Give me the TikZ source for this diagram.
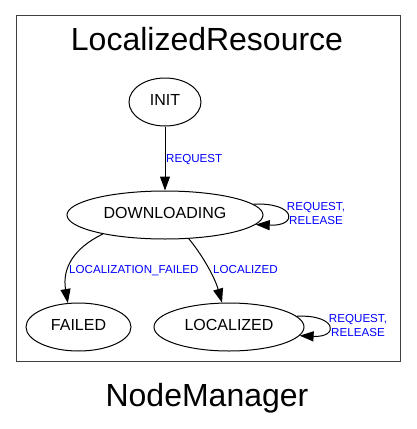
\documentclass[tikz,border=0pt]{standalone}
\usepackage{fontspec}
\setmainfont{Liberation Sans}
\usetikzlibrary{arrows.meta,shapes.geometric,positioning}

\tikzset{
    state/.style={draw,line width=1pt,ellipse,inner sep=0pt,minimum height=48pt,text height=11.5pt,text depth=5pt,font=\fontsize{16}{18}\selectfont},
    edge/.style={line width=1pt,-{Triangle[length=14pt,width=10pt]}},
    elabel/.style={text=blue,inner sep=0pt,font=\fontsize{11.6}{14}\selectfont,align=center},
    title/.style={inner sep=0pt,anchor=base,font=\fontsize{32}{36}\selectfont}
}

\begin{document}
\begin{tikzpicture}[x=1pt,y=-1pt]
    \useasboundingbox (0,0) rectangle (416,429);
    \draw[black!75,line width=1pt] (16,15) rectangle (400,361);
    \node[title] (cluster) at (207,50) {LocalizedResource};
    \node[title] (graph) at (207,406) {NodeManager};

    % states
    \node[state,minimum width=72pt] (init) at (165,102) {INIT};
    \node[state,minimum width=196pt] (dl) at (165,215) {DOWNLOADING};
    \node[state,minimum width=105pt] (failed) at (78.5,327) {FAILED};
    \node[state,minimum width=150pt] (loc) at (229,327) {LOCALIZED};

    % transitions
    \draw[edge] (init) -- (dl);
    \node[elabel,anchor=base west] (lreq) at (166,162) {REQUEST};
    \draw[edge] (dl.7) .. controls +(43,-2) and +(43,2) .. (dl.-6);
    \node[elabel] (ldl) at (316,213.7) {REQUEST,\\RELEASE};
    \draw[edge] (dl.197) .. controls (74,248) and (62,268) .. (failed.114);
    \node[elabel,anchor=base west] (lfail) at (69,273) {LOCALIZATION\_FAILED};
    \draw[edge] (dl.-45) .. controls (200,252) and (214,275) .. (loc.106);
    \node[elabel,anchor=base west] (lloc) at (213,273) {LOCALIZED};
    \draw[edge] (loc.9) .. controls +(40,-2) and +(40,2) .. (loc.-7);
    \node[elabel] (lloop) at (358,325.7) {REQUEST,\\RELEASE};
\end{tikzpicture}
\end{document}
